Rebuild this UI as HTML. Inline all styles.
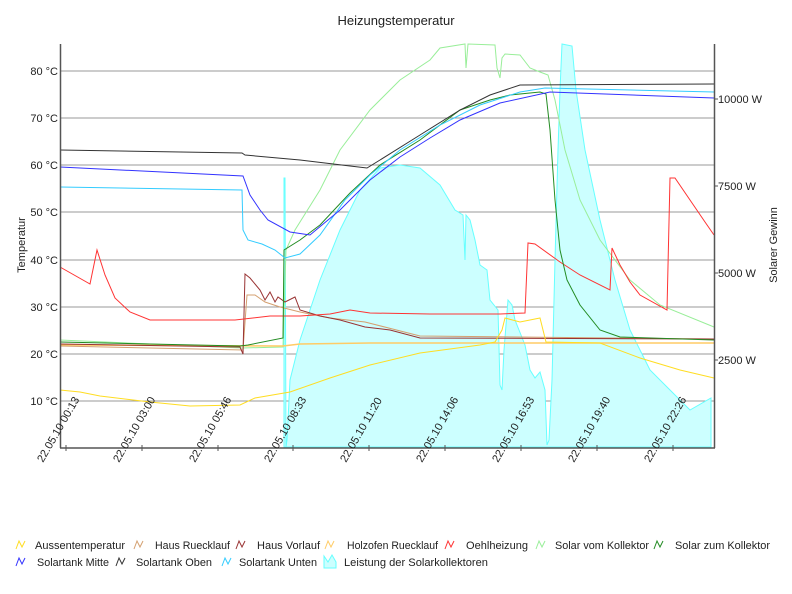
<!DOCTYPE html>
<html><head><meta charset="utf-8"><style>
body{margin:0;background:#fff;}
svg{display:block;font-family:"Liberation Sans","DejaVu Sans",sans-serif;}
</style></head><body>
<svg width="792" height="594" viewBox="0 0 792 594">
<rect width="792" height="594" fill="#fff"/>
<text x="396" y="25" font-size="13" text-anchor="middle" fill="#222">Heizungstemperatur</text>
<g stroke="#999" stroke-width="1">
<line x1="60" x2="714" y1="71" y2="71"/><line x1="60" x2="714" y1="118" y2="118"/>
<line x1="60" x2="714" y1="165" y2="165"/><line x1="60" x2="714" y1="212" y2="212"/>
<line x1="60" x2="714" y1="260" y2="260"/><line x1="60" x2="714" y1="307" y2="307"/>
<line x1="60" x2="714" y1="354" y2="354"/><line x1="60" x2="714" y1="401" y2="401"/>
</g>
<polygon fill="#ccffff" stroke="#66ffff" stroke-width="1" points="284,447 284,178 285,178 286,447 287,440 290,380 300,340 320,280 340,230 360,190 380,168 400,165 420,168 440,185 455,210 463,215 465,260 466,215 470,220 475,240 480,265 487,270 490,300 498,310 500,385 502,390 504,350 508,300 512,305 515,320 525,345 530,370 535,378 540,372 545,390 547,445 549,440 552,380 555,260 558,150 560,90 562,44 572,46 576,90 585,150 600,220 615,280 630,330 650,370 670,390 690,410 711,398 711,447"/>
<g fill="none" stroke-width="1">
<polyline stroke="#99ee99" points="60,340 242,348 283,347 286,250 295,230 320,190 340,150 370,110 400,80 430,60 440,48 465,44 466,68 468,44 495,45 497,68 500,78 502,58 505,54 520,55 530,68 540,72 548,75 555,100 565,150 580,200 600,240 630,280 660,305 714,327"/>
<polyline stroke="#ffcc66" stroke-width="1.5" points="60,345 283,346 300,344 370,343 714,343"/>
<polyline stroke="#d4a070" points="60,346 243,350 247,295 255,295 265,302 280,307 300,312 330,318 365,322 420,336 714,339"/>
<polyline stroke="#993333" points="60,344 240,347 243,354 245,274 250,278 260,290 265,300 270,292 275,302 278,297 285,302 295,297 300,310 320,316 340,320 365,327 390,330 420,338 714,339"/>
<polyline stroke="#ffdd22" points="60,390 80,392 100,396 150,402 190,406 240,405 255,398 290,392 330,378 370,365 420,353 480,345 495,342 502,330 505,318 520,322 540,318 546,342 600,343 640,358 680,370 714,378"/>
<polyline stroke="#ff3333" points="60,267 90,284 97,250 105,275 115,298 130,312 150,320 235,320 270,316 300,316 330,314 350,310 370,313 430,314 500,314 525,313 528,243 535,244 560,262 580,275 610,290 612,248 620,265 630,282 640,295 667,310 670,178 675,178 690,200 705,222 714,235"/>
<polyline stroke="#228b22" points="60,342 240,346 248,345 283,338 284,250 300,240 320,225 350,193 380,165 420,140 460,110 490,100 510,95 540,92 546,94 550,130 555,200 560,250 567,280 580,305 600,330 620,337 714,340"/>
<polyline stroke="#33ccff" points="60,187 242,190 243,230 248,240 262,244 275,250 285,258 300,254 320,235 345,200 370,175 400,150 440,125 480,105 520,92 545,88 714,92"/>
<polyline stroke="#3333ff" points="60,167 243,176 250,195 260,210 268,220 290,232 310,235 340,210 370,180 400,157 430,138 460,120 500,103 550,92 714,98"/>
<polyline stroke="#333" points="60,150 242,153 245,155 300,160 350,166 367,168 380,160 420,135 460,110 490,95 520,85 714,84"/>
</g>
<g stroke="#555" stroke-width="1.5"><line x1="60.5" y1="44" x2="60.5" y2="448"/><line x1="714.5" y1="44" x2="714.5" y2="448"/><line x1="60" y1="448" x2="715" y2="448"/></g>
<g stroke="#555"><line x1="66" x2="66" y1="445" y2="451"/><line x1="142" x2="142" y1="445" y2="451"/><line x1="218" x2="218" y1="445" y2="451"/><line x1="293" x2="293" y1="445" y2="451"/><line x1="369" x2="369" y1="445" y2="451"/><line x1="445" x2="445" y1="445" y2="451"/><line x1="521" x2="521" y1="445" y2="451"/><line x1="597" x2="597" y1="445" y2="451"/><line x1="673" x2="673" y1="445" y2="451"/>
<line x1="714" x2="718" y1="99" y2="99"/><line x1="714" x2="718" y1="186" y2="186"/><line x1="714" x2="718" y1="273" y2="273"/><line x1="714" x2="718" y1="360" y2="360"/></g>
<g font-size="11" fill="#222" text-anchor="end">
<text x="58" y="75">80 °C</text><text x="58" y="122">70 °C</text><text x="58" y="169">60 °C</text><text x="58" y="216">50 °C</text><text x="58" y="264">40 °C</text><text x="58" y="311">30 °C</text><text x="58" y="358">20 °C</text><text x="58" y="405">10 °C</text>
</g>
<g font-size="11" fill="#222"><text x="718" y="103">10000 W</text><text x="718" y="190">7500 W</text><text x="718" y="277">5000 W</text><text x="718" y="364">2500 W</text></g>
<text transform="translate(25,245) rotate(-90)" font-size="11" text-anchor="middle" fill="#222">Temperatur</text>
<text transform="translate(777,245) rotate(-90)" font-size="11" text-anchor="middle" fill="#222">Solarer Gewinn</text>
<g font-size="11" fill="#222">
<text transform="translate(43,463) rotate(-60)">22.05.10 00:13</text>
<text transform="translate(119,463) rotate(-60)">22.05.10 03:00</text>
<text transform="translate(195,463) rotate(-60)">22.05.10 05:46</text>
<text transform="translate(270,463) rotate(-60)">22.05.10 08:33</text>
<text transform="translate(346,463) rotate(-60)">22.05.10 11:20</text>
<text transform="translate(422,463) rotate(-60)">22.05.10 14:06</text>
<text transform="translate(498,463) rotate(-60)">22.05.10 16:53</text>
<text transform="translate(574,463) rotate(-60)">22.05.10 19:40</text>
<text transform="translate(650,463) rotate(-60)">22.05.10 22:26</text>
</g>
<g font-size="11" fill="#222" stroke-width="1">
<polyline fill="none" stroke="#ffdd22" points="16,549 19,541 22,547 25,541"/><text x="35" y="549" textLength="90" lengthAdjust="spacingAndGlyphs">Aussentemperatur</text>
<polyline fill="none" stroke="#d4a070" points="134,549 137,541 140,547 143,541"/><text x="155" y="549" textLength="75" lengthAdjust="spacingAndGlyphs">Haus Ruecklauf</text>
<polyline fill="none" stroke="#993333" points="236,549 239,541 242,547 245,541"/><text x="257" y="549" textLength="63" lengthAdjust="spacingAndGlyphs">Haus Vorlauf</text>
<polyline fill="none" stroke="#ffcc66" points="325,549 328,541 331,547 334,541"/><text x="347" y="549" textLength="91" lengthAdjust="spacingAndGlyphs">Holzofen Ruecklauf</text>
<polyline fill="none" stroke="#ff3333" points="445,549 448,541 451,547 454,541"/><text x="466" y="549" textLength="62" lengthAdjust="spacingAndGlyphs">Oehlheizung</text>
<polyline fill="none" stroke="#99ee99" points="536,549 539,541 542,547 545,541"/><text x="555" y="549" textLength="94" lengthAdjust="spacingAndGlyphs">Solar vom Kollektor</text>
<polyline fill="none" stroke="#228b22" points="654,549 657,541 660,547 663,541"/><text x="675" y="549" textLength="95" lengthAdjust="spacingAndGlyphs">Solar zum Kollektor</text>
<polyline fill="none" stroke="#3333ff" points="16,566 19,558 22,564 25,558"/><text x="37" y="566" textLength="72" lengthAdjust="spacingAndGlyphs">Solartank Mitte</text>
<polyline fill="none" stroke="#333" points="116,566 119,558 122,564 125,558"/><text x="136" y="566" textLength="76" lengthAdjust="spacingAndGlyphs">Solartank Oben</text>
<polyline fill="none" stroke="#33ccff" points="222,566 225,558 228,564 231,558"/><text x="239" y="566" textLength="78" lengthAdjust="spacingAndGlyphs">Solartank Unten</text>
<polygon fill="#ccffff" stroke="#66ffff" points="324,568 324,556 328,562 332,555 336,562 336,568"/><text x="344" y="566" textLength="144" lengthAdjust="spacingAndGlyphs">Leistung der Solarkollektoren</text>
</g>
</svg>
</body></html>
